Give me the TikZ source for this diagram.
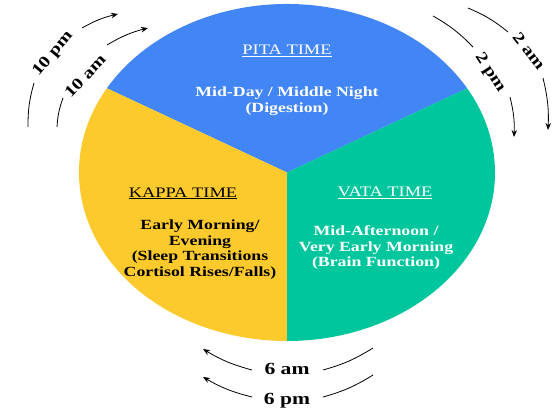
\documentclass[tikz,border=0pt]{standalone}
\usepackage{fontspec}
\setmainfont{Liberation Serif}
\usetikzlibrary{arrows.meta}
\definecolor{pitablue}{RGB}{66,133,244}
\definecolor{kappayellow}{RGB}{253,202,46}
\definecolor{vatagreen}{RGB}{0,198,158}
\newcommand{\stretchtxt}[1]{\scalebox{1.27}[1]{#1}}
\newcommand{\blocktxt}[1]{\stretchtxt{\begin{tabular}{@{}c@{}}#1\end{tabular}}}
\begin{document}
\begin{tikzpicture}[x=1pt,y=1pt,
  title/.style={font=\fontsize{14.5}{15}\selectfont, inner sep=0pt, anchor=base},
  body/.style={font=\fontsize{14}{15.5}\selectfont\bfseries, inner sep=0pt},
  timelabel/.style={font=\fontsize{16}{18}\selectfont\bfseries, inner sep=0pt},
  bottomlabel/.style={font=\fontsize{17}{18}\selectfont\bfseries, inner sep=0pt, anchor=base},
  cyc/.style={line width=0.8pt, black},
  cycarrow/.style={cyc, -{Stealth[length=7pt,width=5.5pt]}}]
\useasboundingbox (0,0) rectangle (553,410);
\coordinate (C) at (287,237.5);
% pie sectors
\fill[pitablue] (C) -- ++(30:208 and 168.5) arc[start angle=30,end angle=150,x radius=208,y radius=168.5] -- cycle;
\fill[kappayellow] (C) -- ++(150:208 and 168.5) arc[start angle=150,end angle=270,x radius=208,y radius=168.5] -- cycle;
\fill[vatagreen] (C) -- ++(270:208 and 168.5) arc[start angle=270,end angle=390,x radius=208,y radius=168.5] -- cycle;
% texts
\node[title, text=white] (pitatitle) at (287,355) {\stretchtxt{\underline{PITA TIME}}};
\node[body, text=white] (pitabody) at (287,308.5) {\blocktxt{Mid-Day / Middle Night\\(Digestion)}};
\node[title] (kappatitle) at (183,213) {\stretchtxt{\underline{KAPPA TIME}}};
\node[body] (kappabody) at (200,160) {\blocktxt{Early Morning/\\Evening\\(Sleep Transitions\\Cortisol Rises/Falls)}};
\node[title, text=white] (vatatitle) at (385,213.3) {\stretchtxt{\underline{VATA TIME}}};
\node[body, text=white] (vatabody) at (376,162) {\blocktxt{Mid-Afternoon /\\Very Early Morning\\(Brain Function)}};
% top-left cycle labels
\node[timelabel, rotate=50] (tenpm) at (53,356) {\stretchtxt{10 pm}};
\node[timelabel, rotate=47] (tenam) at (85,334) {\stretchtxt{10 am}};
\coordinate (a1) at (28,283); \coordinate (a2) at (34,327);
\coordinate (a3) at (82,382); \coordinate (a4) at (118,396);
\coordinate (b1) at (57,283); \coordinate (b2) at (63,312);
\coordinate (b3) at (107,365); \coordinate (b4) at (148,382);
\draw[cyc] (a1) to[bend left=8] (a2);
\draw[cycarrow] (a3) to[bend left=8] (a4);
\draw[cyc] (b1) to[bend left=8] (b2);
\draw[cycarrow] (b3) to[bend left=8] (b4);
% top-right cycle labels
\node[timelabel, rotate=-52] (twoam) at (529,359) {\stretchtxt{2 am}};
\node[timelabel, rotate=-57] (twopm) at (490,337) {\stretchtxt{2 pm}};
\coordinate (c1) at (468,402); \coordinate (c2) at (508,378);
\coordinate (c3) at (543,332); \coordinate (c4) at (548,280);
\coordinate (d1) at (433,394); \coordinate (d2) at (473,363);
\coordinate (d3) at (510,313); \coordinate (d4) at (514,273);
\draw[cyc] (c1) to[bend left=8] (c2);
\draw[cycarrow] (c3) to[bend left=8] (c4);
\draw[cyc] (d1) to[bend left=8] (d2);
\draw[cycarrow] (d3) to[bend left=8] (d4);
% bottom cycle labels
\node[bottomlabel] (sixam) at (287,36) {\stretchtxt{6 am}};
\node[bottomlabel] (sixpm) at (287,6) {\stretchtxt{6 pm}};
\coordinate (e1) at (252,40); \coordinate (e2) at (203,61);
\coordinate (e3) at (323,40); \coordinate (e4) at (373,62);
\coordinate (f1) at (252,13); \coordinate (f2) at (203,33);
\coordinate (f3) at (323,13); \coordinate (f4) at (373,35);
\draw[cycarrow] (e1) to[bend left=8] (e2);
\draw[cyc] (e3) to[bend right=8] (e4);
\draw[cycarrow] (f1) to[bend left=8] (f2);
\draw[cyc] (f3) to[bend right=8] (f4);
\end{tikzpicture}
\end{document}
